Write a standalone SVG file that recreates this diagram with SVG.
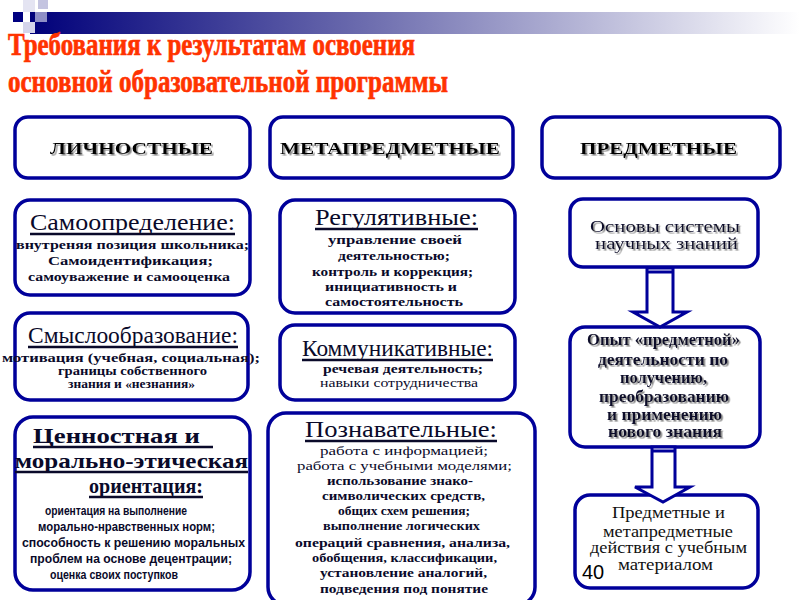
<svg xmlns="http://www.w3.org/2000/svg" width="800" height="600" viewBox="0 0 800 600">
<defs>
<linearGradient id="bar" x1="0" y1="0" x2="1" y2="0">
<stop offset="0" stop-color="#00007a"/>
<stop offset="0.45" stop-color="#7070b0"/>
<stop offset="1" stop-color="#ffffff"/>
</linearGradient>
<filter id="shadow" x="-5%" y="-20%" width="115%" height="150%">
<feDropShadow dx="1.6" dy="1.6" stdDeviation="0" flood-color="#8a8a8a" flood-opacity="1"/>
</filter>
</defs>
<style>
.box{fill:#fff;stroke:#00009a;stroke-width:3.5}
.arr{fill:#fff;stroke:#00009a;stroke-width:3;stroke-linejoin:miter}
.ttl{font-family:"Liberation Serif",serif;font-weight:bold;font-size:32px;fill:#ff3300;stroke:#ff3300;stroke-width:0.7}
.hdr{font-family:"Liberation Serif",serif;font-weight:bold;font-size:17px;fill:#000;filter:url(#shadow)}
.big{font-family:"Liberation Serif",serif;font-size:24px;fill:#0a0a2a}
.bigb{font-family:"Liberation Serif",serif;font-weight:bold;font-size:21px;fill:#0a0a2a}
.sb{font-family:"Liberation Serif",serif;font-weight:bold;font-size:12px;fill:#0a0a2a}
.sr{font-family:"Liberation Serif",serif;font-size:12px;fill:#0a0a2a}
.ss{font-family:"Liberation Sans",sans-serif;font-weight:bold;font-size:12px;fill:#0a0a2a}
.md{font-family:"Liberation Serif",serif;font-size:16px;fill:#0a0a2a;filter:url(#shadow)}
.mdb{font-family:"Liberation Serif",serif;font-weight:bold;font-size:16px;fill:#0a0a2a;filter:url(#shadow)}
.pl{font-family:"Liberation Serif",serif;font-size:16px;fill:#111}
.ul{stroke:#0a0a2a;stroke-width:2.5}
</style>

<g id="decor">
<rect x="30" y="12" width="770" height="22" fill="url(#bar)"/>
<rect x="23" y="0" width="12" height="12" fill="#e4e4f2"/>
<rect x="38" y="0" width="10" height="9" fill="#c4c4e0"/>
<rect x="13" y="12" width="10" height="10" fill="#000080"/>
<rect x="35" y="12" width="12" height="10" fill="#8e8ec6"/>
<rect x="23" y="22" width="12" height="11" fill="#d4d4ea"/>
</g>

<g id="title">
<text class="ttl" x="8" y="55" textLength="407" lengthAdjust="spacingAndGlyphs">Требования к результатам освоения</text>
<text class="ttl" x="8" y="92" textLength="440" lengthAdjust="spacingAndGlyphs">основной образовательной  программы</text>
</g>

<g id="h-lichnostnye">
<rect class="box" x="15" y="117" width="235" height="61" rx="13"/>
<text class="hdr" x="50" y="154" textLength="163" lengthAdjust="spacingAndGlyphs">ЛИЧНОСТНЫЕ</text>
</g>
<g id="h-metapredmetnye">
<rect class="box" x="270" y="117" width="243" height="61" rx="13"/>
<text class="hdr" x="280" y="154" textLength="220" lengthAdjust="spacingAndGlyphs">МЕТАПРЕДМЕТНЫЕ</text>
</g>
<g id="h-predmetnye">
<rect class="box" x="542" y="117" width="238" height="61" rx="13"/>
<text class="hdr" x="580" y="154" textLength="157" lengthAdjust="spacingAndGlyphs">ПРЕДМЕТНЫЕ</text>
</g>

<g id="samoopredelenie">
<rect class="box" x="15" y="200" width="235" height="95" rx="15"/>
<text class="big" x="30" y="230" textLength="205" lengthAdjust="spacingAndGlyphs">Самоопределение:</text>
<line class="ul" x1="30" y1="234" x2="235" y2="234"/>
<text class="sb" x="16" y="249" textLength="233" lengthAdjust="spacingAndGlyphs">внутреняя позиция школьника;</text>
<text class="sb" x="48" y="265" textLength="165" lengthAdjust="spacingAndGlyphs">Самоидентификация;</text>
<text class="sb" x="28" y="281" textLength="202" lengthAdjust="spacingAndGlyphs">самоуважение и самооценка</text>
</g>

<g id="reguljativnye">
<rect class="box" x="280" y="200" width="235" height="113" rx="15"/>
<text class="big" x="315" y="225" textLength="163" lengthAdjust="spacingAndGlyphs">Регулятивные:</text>
<line class="ul" x1="315" y1="229" x2="478" y2="229"/>
<text class="sb" x="328" y="244" textLength="134" lengthAdjust="spacingAndGlyphs">управление своей</text>
<text class="sb" x="338" y="260" textLength="112" lengthAdjust="spacingAndGlyphs">деятельностью;</text>
<text class="sb" x="312" y="276" textLength="161" lengthAdjust="spacingAndGlyphs">контроль и коррекция;</text>
<text class="sb" x="325" y="291" textLength="132" lengthAdjust="spacingAndGlyphs">инициативность и</text>
<text class="sb" x="325" y="306" textLength="138" lengthAdjust="spacingAndGlyphs">самостоятельность</text>
</g>

<g id="osnovy">
<rect class="box" x="570" y="199" width="188" height="68" rx="13"/>
<text class="md" x="590" y="232" textLength="150" lengthAdjust="spacingAndGlyphs">Основы системы</text>
<text class="md" x="595" y="249" textLength="143" lengthAdjust="spacingAndGlyphs">научных знаний</text>
</g>

<g id="smysloobrazovanie">
<rect class="box" x="15" y="313" width="233" height="87" rx="15"/>
<text class="big" x="28" y="343" textLength="210" lengthAdjust="spacingAndGlyphs">Смыслообразование:</text>
<line class="ul" x1="28" y1="347" x2="238" y2="347"/>
<text class="sb" x="2" y="362" textLength="258" lengthAdjust="spacingAndGlyphs" font-size="11">мотивация (учебная, социальная);</text>
<text class="sb" x="58" y="375" textLength="149" lengthAdjust="spacingAndGlyphs" font-size="11">границы собственного</text>
<text class="sb" x="68" y="388" textLength="127" lengthAdjust="spacingAndGlyphs" font-size="11">знания и «незнания»</text>
</g>

<g id="kommunikativnye">
<rect class="box" x="280" y="325" width="235" height="75" rx="15"/>
<text class="big" x="302" y="356" textLength="191" lengthAdjust="spacingAndGlyphs">Коммуникативные:</text>
<line class="ul" x1="302" y1="360" x2="493" y2="360"/>
<text class="sb" x="323" y="373" textLength="160" lengthAdjust="spacingAndGlyphs">речевая деятельность;</text>
<text class="sr" x="320" y="387" textLength="158" lengthAdjust="spacingAndGlyphs">навыки сотрудничества</text>
</g>

<g id="opyt">
<rect class="box" x="570" y="327" width="190" height="120" rx="15"/>
<text class="mdb" x="587" y="345" textLength="153" lengthAdjust="spacingAndGlyphs">Опыт «предметной»</text>
<text class="mdb" x="598" y="365" textLength="130" lengthAdjust="spacingAndGlyphs">деятельности по</text>
<text class="mdb" x="620" y="383" textLength="87" lengthAdjust="spacingAndGlyphs">получению,</text>
<text class="mdb" x="599" y="402" textLength="130" lengthAdjust="spacingAndGlyphs">преобразованию</text>
<text class="mdb" x="607" y="420" textLength="115" lengthAdjust="spacingAndGlyphs">и применению</text>
<text class="mdb" x="608" y="437" textLength="114" lengthAdjust="spacingAndGlyphs">нового знания</text>
</g>

<g id="cennostnaja">
<rect class="box" x="15" y="417" width="235" height="173" rx="18"/>
<text class="bigb" x="33" y="443" textLength="167" lengthAdjust="spacingAndGlyphs">Ценностная и</text>
<line class="ul" x1="33" y1="447" x2="213" y2="447"/>
<text class="bigb" x="15" y="468" textLength="233" lengthAdjust="spacingAndGlyphs">морально-этическая</text>
<line class="ul" x1="15" y1="472" x2="248" y2="472"/>
<text class="bigb" x="89" y="493" textLength="114" lengthAdjust="spacingAndGlyphs">ориентация:</text>
<line class="ul" x1="89" y1="497" x2="203" y2="497"/>
<text class="ss" x="45" y="515" textLength="142" lengthAdjust="spacingAndGlyphs">ориентация на выполнение</text>
<text class="ss" x="38" y="531" textLength="177" lengthAdjust="spacingAndGlyphs">морально-нравственных норм;</text>
<text class="ss" x="22" y="547" textLength="223" lengthAdjust="spacingAndGlyphs">способность к решению моральных</text>
<text class="ss" x="30" y="563" textLength="202" lengthAdjust="spacingAndGlyphs">проблем на основе децентрации;</text>
<text class="ss" x="50" y="579" textLength="128" lengthAdjust="spacingAndGlyphs">оценка своих поступков</text>
</g>

<g id="poznavatelnye">
<rect class="box" x="268" y="413" width="267" height="192" rx="18"/>
<text class="big" x="305" y="437" textLength="192" lengthAdjust="spacingAndGlyphs">Познавательные:</text>
<line class="ul" x1="305" y1="441" x2="497" y2="441"/>
<text class="sr" x="320" y="455" textLength="168" lengthAdjust="spacingAndGlyphs">работа с информацией;</text>
<text class="sr" x="297" y="470" textLength="215" lengthAdjust="spacingAndGlyphs">работа с учебными моделями;</text>
<text class="sb" x="327" y="485" textLength="146" lengthAdjust="spacingAndGlyphs">использование знако-</text>
<text class="sb" x="322" y="500" textLength="163" lengthAdjust="spacingAndGlyphs">символических средств,</text>
<text class="sb" x="338" y="515" textLength="132" lengthAdjust="spacingAndGlyphs">общих схем решения;</text>
<text class="sb" x="323" y="530" textLength="157" lengthAdjust="spacingAndGlyphs">выполнение логических</text>
<text class="sb" x="295" y="547" textLength="215" lengthAdjust="spacingAndGlyphs">операций сравнения,  анализа,</text>
<text class="sb" x="312" y="562" textLength="185" lengthAdjust="spacingAndGlyphs">обобщения, классификации,</text>
<text class="sb" x="320" y="577" textLength="167" lengthAdjust="spacingAndGlyphs">установление аналогий,</text>
<text class="sb" x="320" y="593" textLength="168" lengthAdjust="spacingAndGlyphs">подведения под понятие</text>
</g>

<g id="predmetnye-dejstvija">
<rect class="box" x="575" y="495" width="183" height="93" rx="15"/>
<text class="pl" x="612" y="518" textLength="113" lengthAdjust="spacingAndGlyphs">Предметные и</text>
<text class="pl" x="603" y="537" textLength="130" lengthAdjust="spacingAndGlyphs">метапредметные</text>
<text class="pl" x="590" y="553" textLength="157" lengthAdjust="spacingAndGlyphs">действия с учебным</text>
<text class="pl" x="618" y="570" textLength="95" lengthAdjust="spacingAndGlyphs">материалом</text>
</g>

<g id="page-number">
<text x="582" y="579" font-family="Liberation Sans, sans-serif" font-size="20" fill="#000">40</text>
</g>

<g id="connectors">
<polygon class="arr" points="647,268 673,268 673,312 687,312 660,327 633,312 647,312"/>
<line x1="647" y1="272" x2="673" y2="272" stroke="#00009a" stroke-width="3"/>
<polygon class="arr" points="652,447 675,447 675,487 690,487 663,502 635,487 652,487"/>
<line x1="652" y1="451" x2="675" y2="451" stroke="#00009a" stroke-width="3"/>
</g>
</svg>
